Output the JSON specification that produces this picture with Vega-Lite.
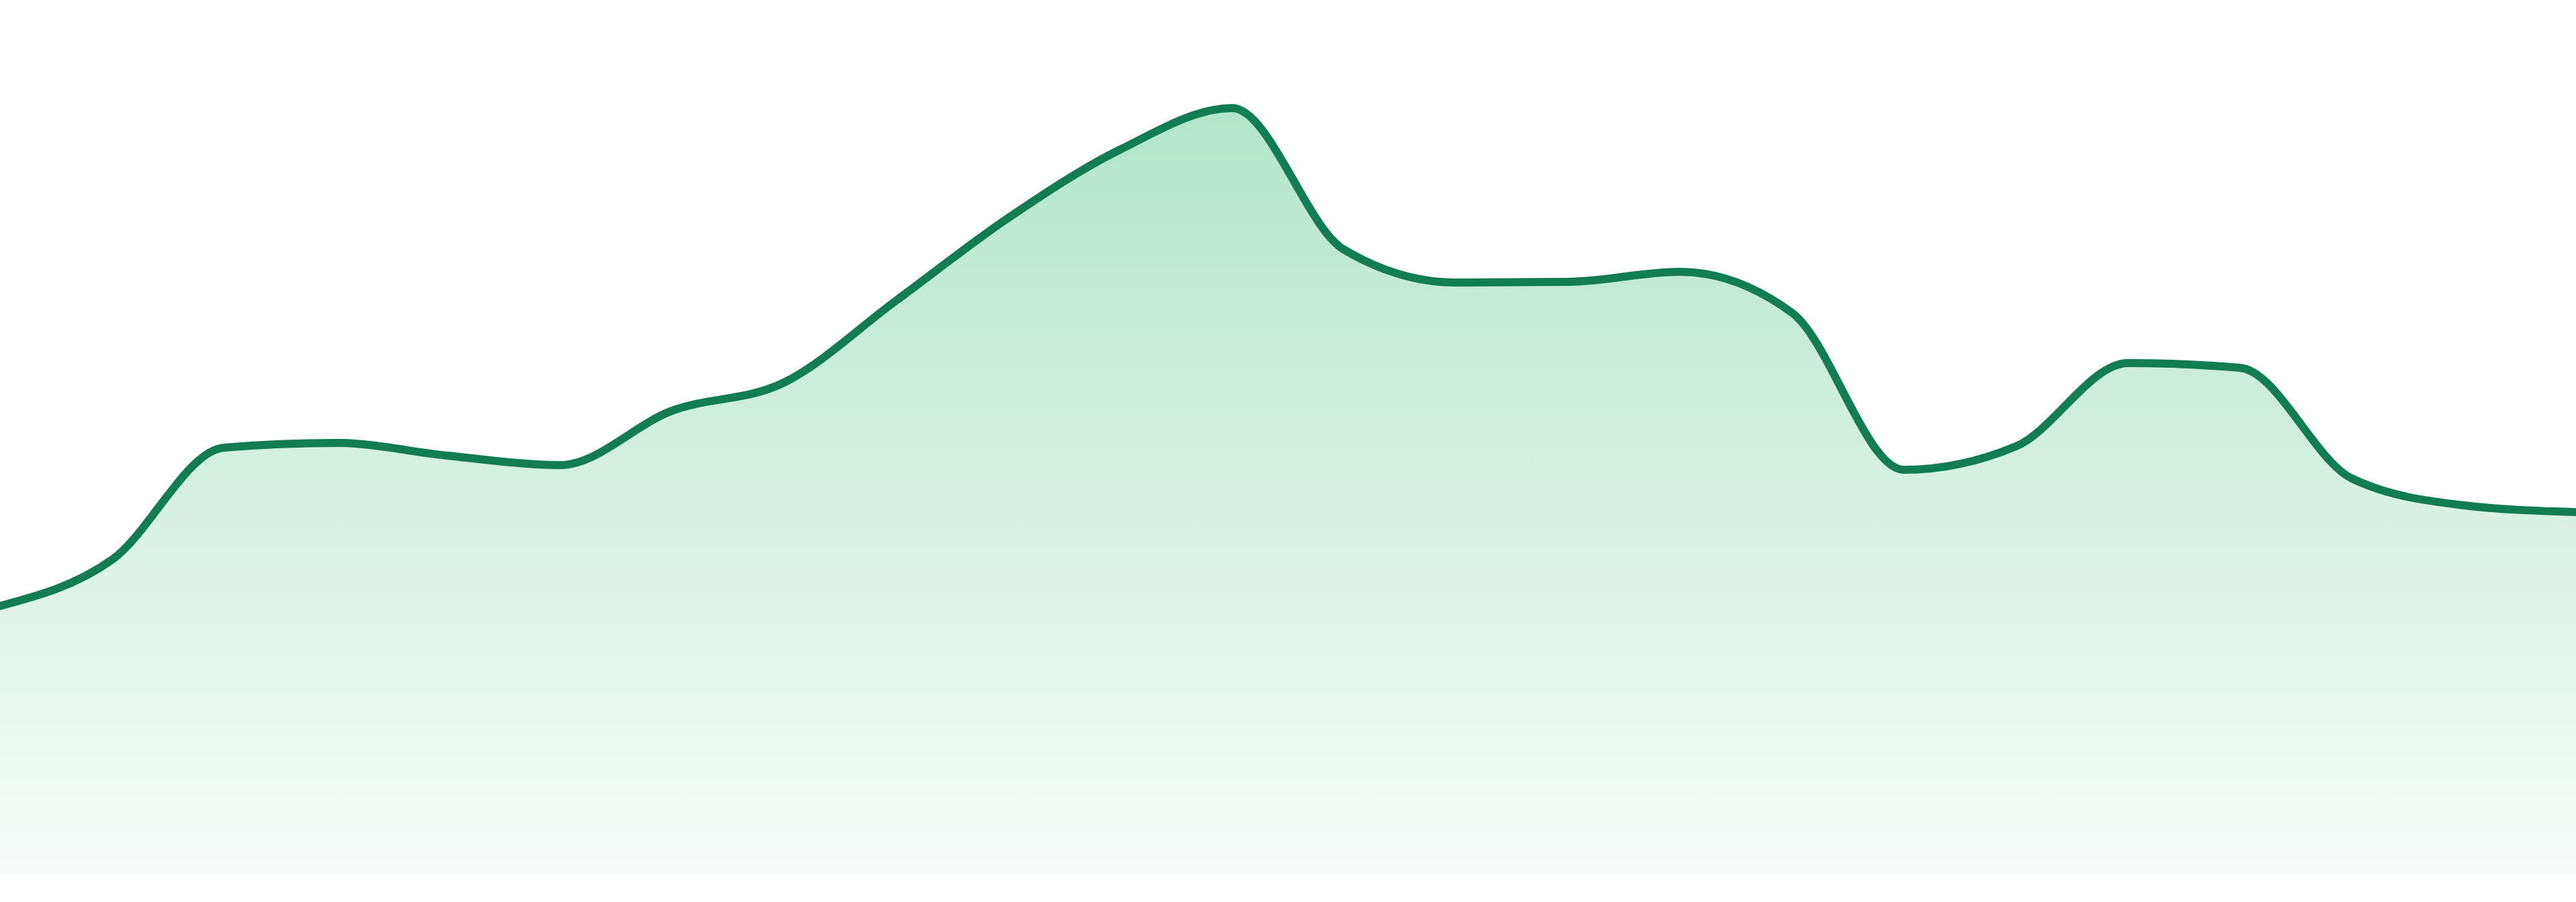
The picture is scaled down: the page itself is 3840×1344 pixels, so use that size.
{
  "$schema": "https://vega.github.io/schema/vega-lite/v6.json",
  "autosize": {"type": "none"},
  "width": 3840,
  "height": 1304,
  "padding": {"left": 0, "right": 0, "top": 0, "bottom": 40},
  "background": "#ffffff",
  "config": {"view": {"stroke": null}},
  "data": {
    "values": [
      {"i": 0, "v": 401}, {"i": 1, "v": 470}, {"i": 2, "v": 637}, {"i": 3, "v": 644},
      {"i": 4, "v": 625}, {"i": 5, "v": 611}, {"i": 6, "v": 692}, {"i": 7, "v": 734},
      {"i": 8, "v": 856}, {"i": 9, "v": 979}, {"i": 10, "v": 1081}, {"i": 11, "v": 1143},
      {"i": 12, "v": 932}, {"i": 13, "v": 883}, {"i": 14, "v": 884}, {"i": 15, "v": 899},
      {"i": 16, "v": 838}, {"i": 17, "v": 604}, {"i": 18, "v": 639}, {"i": 19, "v": 763},
      {"i": 20, "v": 756}, {"i": 21, "v": 591}, {"i": 22, "v": 551}, {"i": 23, "v": 541}
    ]
  },
  "encoding": {
    "x": {"field": "i", "type": "quantitative", "scale": {"domain": [0, 23], "nice": false, "zero": false}, "axis": null},
    "y": {"field": "v", "type": "quantitative", "scale": {"domain": [0, 1304], "nice": false}, "axis": null}
  },
  "layer": [
    {
      "mark": {
        "type": "area",
        "interpolate": "monotone",
        "color": {
          "gradient": "linear",
          "x1": 0, "y1": 0, "x2": 0, "y2": 1,
          "stops": [
            {"offset": 0, "color": "#b3e5cb"},
            {"offset": 1, "color": "#f8fcfa"}
          ]
        }
      }
    },
    {
      "mark": {"type": "line", "interpolate": "monotone", "color": "#127c52", "strokeWidth": 12, "strokeCap": "round", "strokeJoin": "round"}
    }
  ]
}
